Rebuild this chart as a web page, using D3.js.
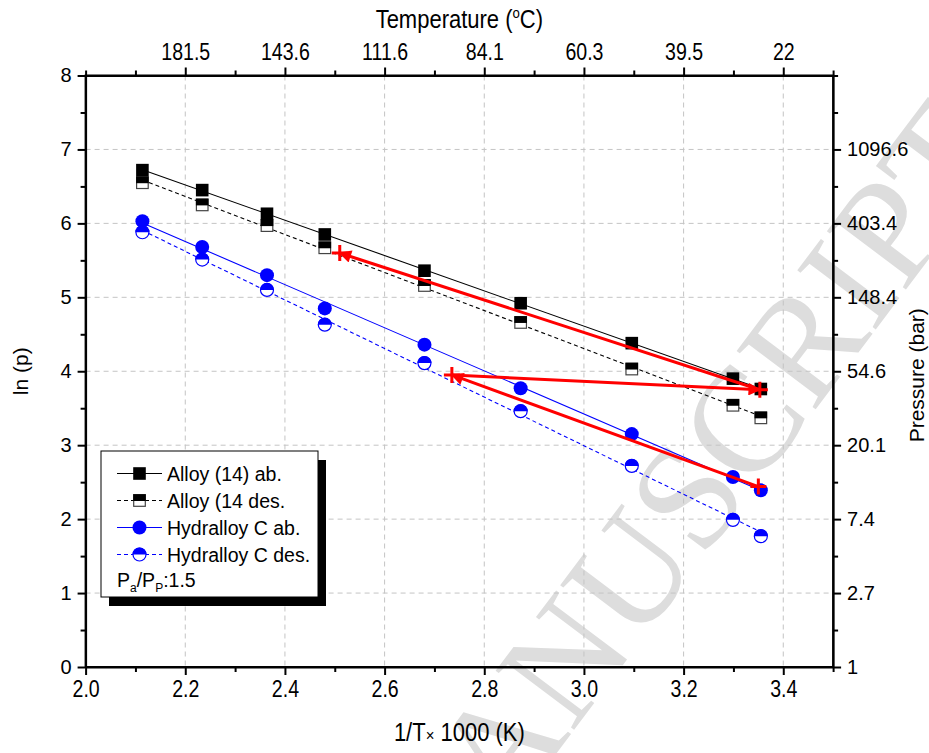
<!DOCTYPE html>
<html><head><meta charset="utf-8">
<script src="https://cdn.jsdelivr.net/npm/d3@7"></script>
<style>
body{margin:0;background:#fff}
svg{display:block;font-family:"Liberation Sans",Arial,sans-serif}
</style>
</head><body>
<svg id="chart" width="929" height="753"></svg>
<script>
// ---- data ----
const invT      = [2.114, 2.234, 2.364, 2.480, 2.680, 2.873, 3.096, 3.299, 3.355];
const alloyAb   = [6.72, 6.45, 6.13, 5.85, 5.36, 4.92, 4.38, 3.90, 3.76];
const alloyDes  = [6.55, 6.25, 5.97, 5.67, 5.16, 4.66, 4.03, 3.54, 3.37];
const hydAb     = [6.03, 5.68, 5.30, 4.85, 4.36, 3.77, 3.15, 2.57, 2.39];
const hydDes    = [5.88, 5.51, 5.10, 4.63, 4.11, 3.46, 2.72, 1.99, 1.77];
const cycleX    = [3.350, 2.735, 3.353, 2.510];
const cycleY    = [2.44, 3.95, 3.75, 5.60];
const seriesNames = ["Alloy (14) ab.", "Alloy (14 des.", "Hydralloy C ab.", "Hydralloy C des."];
const xMajor    = [2.0, 2.2, 2.4, 2.6, 2.8, 3.0, 3.2, 3.4];
const xMajorLabels = ["2.0", "2.2", "2.4", "2.6", "2.8", "3.0", "3.2", "3.4"];
const xMinor    = [2.1, 2.3, 2.5, 2.7, 2.9, 3.1, 3.3, 3.5];
const yMajor    = [0, 1, 2, 3, 4, 5, 6, 7, 8];
const yMajorLabels = ["0", "1", "2", "3", "4", "5", "6", "7", "8"];
const yMinor    = [0.5, 1.5, 2.5, 3.5, 4.5, 5.5, 6.5, 7.5];
const topTickValues = [2.2, 2.4, 2.6, 2.8, 3.0, 3.2, 3.4];
const topTickLabels = ["181.5", "143.6", "111.6", "84.1", "60.3", "39.5", "22"];
const rightTickValues = [0, 1, 2, 3, 4, 5, 6, 7];
const rightTickLabels = ["1", "2.7", "7.4", "20.1", "54.6", "148.4", "403.4", "1096.6"];
const xGrid = [2.2, 2.4, 2.6, 2.8, 3.0, 3.2, 3.4];
const yGrid = [1, 2, 3, 4, 5, 6, 7];

// ---- layout ----
const L = 85.6, R = 833.1, T = 75.5, B = 667;
const svg = d3.select("#chart");
const x = d3.scaleLinear().domain([2.0, 3.5]).range([L, R]);
const y = d3.scaleLinear().domain([0, 8]).range([B, T]);
const NARROW = "scale(0.85,1)";

// watermark (partly outside the page, as in the reference)
svg.append("text")
  .attr("transform", "translate(1008,154) rotate(-53)")
  .attr("text-anchor", "end")
  .attr("font-family", "'Liberation Serif','Times New Roman',serif")
  .attr("font-size", 150)
  .attr("fill", "#dddddd")
  .text("ACCEPTED MANUSCRIPT");

// grid
const grid = svg.append("g").attr("stroke", "#c4c4c4").attr("stroke-width", 1).attr("stroke-dasharray", "5,4");
grid.selectAll(".gx").data(xGrid).join("line")
  .attr("x1", d => x(d)).attr("x2", d => x(d)).attr("y1", T).attr("y2", B);
grid.selectAll(".gy").data(yGrid).join("line")
  .attr("y1", d => y(d)).attr("y2", d => y(d)).attr("x1", L).attr("x2", R);

// axes
function styleAxis(g, size, narrow) {
  g.select(".domain").attr("stroke", "#000").attr("stroke-width", 2);
  g.selectAll(".tick line").attr("stroke", "#000").attr("stroke-width", 2);
  const t = g.selectAll(".tick text").attr("fill", "#000").attr("font-size", size)
    .attr("font-family", "'Liberation Sans',Arial,sans-serif");
  if (narrow) t.attr("transform", NARROW);
}
function minorTicks(g) {
  g.select(".domain").remove();
  g.selectAll("line").attr("stroke", "#000").attr("stroke-width", 2);
}
// bottom
const gb = svg.append("g").attr("transform", `translate(0,${B})`)
  .call(d3.axisBottom(x).tickValues(xMajor).tickFormat((d, i) => xMajorLabels[i]).tickSizeInner(8).tickSizeOuter(0).tickPadding(6));
styleAxis(gb, 23, true);
svg.append("g").attr("transform", `translate(0,${B})`)
  .call(d3.axisBottom(x).tickValues(xMinor).tickFormat("").tickSizeInner(5).tickSizeOuter(0)).call(minorTicks);
// top
const gt = svg.append("g").attr("transform", `translate(0,${T})`)
  .call(d3.axisTop(x).tickValues(topTickValues).tickFormat((d, i) => topTickLabels[i]).tickSizeInner(8).tickSizeOuter(0).tickPadding(8));
styleAxis(gt, 23, true);
svg.append("g").attr("transform", `translate(0,${T})`)
  .call(d3.axisTop(x).tickValues([2.0, ...xMinor]).tickFormat("").tickSizeInner(5).tickSizeOuter(0)).call(minorTicks);
// left
const gl = svg.append("g").attr("transform", `translate(${L},0)`)
  .call(d3.axisLeft(y).tickValues(yMajor).tickFormat((d, i) => yMajorLabels[i]).tickSizeInner(8).tickSizeOuter(0).tickPadding(6));
styleAxis(gl, 20, false);
svg.append("g").attr("transform", `translate(${L},0)`)
  .call(d3.axisLeft(y).tickValues(yMinor).tickFormat("").tickSizeInner(5).tickSizeOuter(0)).call(minorTicks);
// right
const gr = svg.append("g").attr("transform", `translate(${R},0)`)
  .call(d3.axisRight(y).tickValues(rightTickValues).tickFormat((d, i) => rightTickLabels[i]).tickSizeInner(8).tickSizeOuter(0).tickPadding(6));
styleAxis(gr, 20, false);
svg.append("g").attr("transform", `translate(${R},0)`)
  .call(d3.axisRight(y).tickValues([8, ...yMinor]).tickFormat("").tickSizeInner(5).tickSizeOuter(0)).call(minorTicks);
// frame
svg.append("rect").attr("x", L).attr("y", T).attr("width", R - L).attr("height", B - T)
  .attr("fill", "none").attr("stroke", "#000").attr("stroke-width", 2);

// axis titles
const topTitle = svg.append("g").attr("transform", `translate(${(L + R) / 2},28)`)
  .append("text").attr("transform", "scale(0.88,1)").attr("text-anchor", "middle").attr("font-size", 25);
topTitle.append("tspan").text("Temperature (");
topTitle.append("tspan").attr("font-size", 15).attr("dy", -10).text("o");
topTitle.append("tspan").attr("dy", 10).text("C)");
const botTitle = svg.append("g").attr("transform", `translate(${(L + R) / 2},741)`)
  .append("text").attr("transform", "scale(0.88,1)").attr("text-anchor", "middle").attr("font-size", 25);
botTitle.append("tspan").text("1/T");
botTitle.append("tspan").attr("font-size", 17).text("\u00d7");
botTitle.append("tspan").text(" 1000 (K)");
svg.append("text").attr("transform", `translate(28,${(T + B) / 2}) rotate(-90)`).attr("text-anchor", "middle")
  .attr("font-size", 21).text("ln (p)");
svg.append("text").attr("transform", `translate(924,${(T + B) / 2 + 4}) rotate(-90)`).attr("text-anchor", "middle")
  .attr("font-size", 21).text("Pressure (bar)");

// fit lines
function fit(xs, ys) {
  const mx = d3.mean(xs), my = d3.mean(ys);
  const b = d3.sum(xs, (v, i) => (v - mx) * (ys[i] - my)) / d3.sum(xs, v => (v - mx) ** 2);
  const a = my - b * mx;
  const x0 = d3.min(xs), x1 = d3.max(xs);
  return [[x0, a + b * x0], [x1, a + b * x1]];
}
const series = [
  {vals: alloyAb,  color: "#000", dash: null,  marker: "sq"},
  {vals: alloyDes, color: "#000", dash: "4,3", marker: "hsq"},
  {vals: hydAb,    color: "#0000ff", dash: null,  marker: "ci"},
  {vals: hydDes,   color: "#0000ff", dash: "4,3", marker: "hci"}
];
const line = d3.line().x(d => x(d[0])).y(d => y(d[1]));
series.forEach(s => {
  svg.append("path").attr("d", line(fit(invT, s.vals))).attr("fill", "none")
    .attr("stroke", s.color).attr("stroke-width", 1.1).attr("stroke-dasharray", s.dash);
});

function drawMarker(g, type, color) {
  const h = 6.3, r = 7;
  if (type === "sq") {
    g.append("rect").attr("x", -h).attr("y", -h).attr("width", 2 * h).attr("height", 2 * h).attr("fill", "#000");
  } else if (type === "hsq") {
    g.append("rect").attr("x", -h + 0.5).attr("y", -h + 0.5).attr("width", 2 * h - 1).attr("height", 2 * h - 1)
      .attr("fill", "#fff").attr("stroke", "#444").attr("stroke-width", 1.2);
    g.append("rect").attr("x", -h).attr("y", -h).attr("width", 2 * h).attr("height", h + 0.5).attr("fill", "#000");
  } else if (type === "ci") {
    g.append("circle").attr("r", r).attr("fill", color);
  } else {
    g.append("circle").attr("r", r - 0.5).attr("fill", "#fff").attr("stroke", color).attr("stroke-width", 1.2);
    g.append("path").attr("d", `M${-r},0A${r},${r} 0 0 1 ${r},0Z`).attr("fill", color);
  }
}
[1, 3, 0, 2].forEach(k => {
  const s = series[k];
  s.vals.forEach((v, i) => {
    const g = svg.append("g").attr("transform", `translate(${x(invT[i])},${y(v)})`);
    drawMarker(g, s.marker, s.color);
  });
});

// red cycle arrows
const red = "#ff0000";
svg.append("defs").append("marker").attr("id", "ah").attr("viewBox", "0 0 10 10")
  .attr("refX", 9).attr("refY", 5).attr("markerWidth", 6).attr("markerHeight", 4.2)
  .attr("markerUnits", "strokeWidth").attr("orient", "auto")
  .append("path").attr("d", "M0,0L10,5L0,10Z").attr("fill", red);
for (let i = 0; i < cycleX.length - 1; i++) {
  svg.append("line")
    .attr("x1", x(cycleX[i])).attr("y1", y(cycleY[i]))
    .attr("x2", x(cycleX[i + 1])).attr("y2", y(cycleY[i + 1]))
    .attr("stroke", red).attr("stroke-width", 3).attr("marker-end", "url(#ah)");
}
cycleX.forEach((cx, i) => {
  const px = x(cx), py = y(cycleY[i]);
  svg.append("path").attr("d", `M${px - 8},${py}H${px + 8}M${px},${py - 8}V${py + 8}`)
    .attr("stroke", red).attr("stroke-width", 3);
});

// legend
const lg = svg.append("g");
lg.append("rect").attr("x", 109).attr("y", 460).attr("width", 217).attr("height", 146).attr("fill", "#000");
lg.append("rect").attr("x", 101).attr("y", 451).attr("width", 217).attr("height", 146)
  .attr("fill", "#fff").attr("stroke", "#000").attr("stroke-width", 1);
const rowY = [473.5, 500.5, 527.5, 554.5];
series.forEach((s, i) => {
  lg.append("line").attr("x1", 117).attr("x2", 162).attr("y1", rowY[i]).attr("y2", rowY[i])
    .attr("stroke", s.color).attr("stroke-width", 1.1).attr("stroke-dasharray", s.dash);
  const g = lg.append("g").attr("transform", `translate(139.5,${rowY[i]})`);
  drawMarker(g, s.marker, s.color);
  lg.append("text").attr("x", 167).attr("y", rowY[i] + 7).attr("font-size", 19.5).text(seriesNames[i]);
});
const pt = lg.append("text").attr("x", 117).attr("y", 587).attr("font-size", 19.5);
pt.append("tspan").text("P");
pt.append("tspan").attr("font-size", 12).attr("dy", 5).text("a");
pt.append("tspan").attr("dy", -5).text("/P");
pt.append("tspan").attr("font-size", 12).attr("dy", 5).text("P");
pt.append("tspan").attr("dy", -5).text(":1.5");
</script>
</body></html>
